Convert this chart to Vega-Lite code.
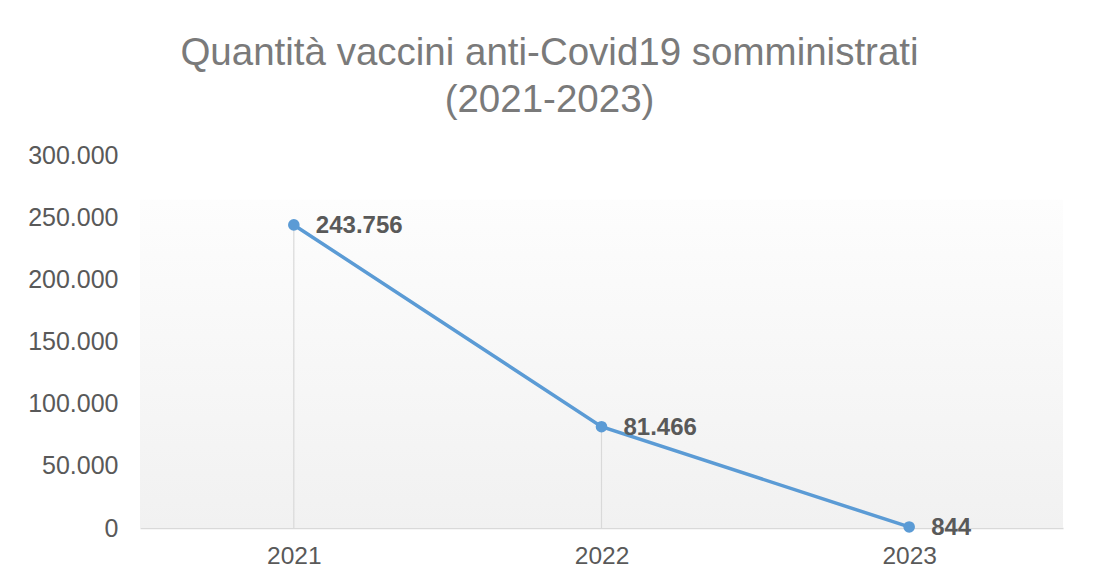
{
  "$schema": "https://vega.github.io/schema/vega-lite/v6.json",
  "width": 923,
  "height": 373,
  "autosize": "none",
  "padding": {"left": 140, "top": 155, "right": 33, "bottom": 53},
  "background": "white",
  "config": {
    "view": {"stroke": null},
    "locale": {"number": {"decimal": ",", "thousands": ".", "grouping": [3], "currency": ["€", ""]}},
    "font": "Liberation Sans"
  },
  "title": {
    "text": ["Quantità vaccini anti-Covid19 somministrati", "(2021-2023)"],
    "font": "Liberation Sans",
    "fontSize": 38.5,
    "fontWeight": "normal",
    "color": "#7a7a7a",
    "anchor": "middle",
    "frame": "group",
    "dx": -52,
    "offset": 23,
    "lineHeight": 47
  },
  "data": {
    "values": [
      {"anno": "2021", "dosi": 243756},
      {"anno": "2022", "dosi": 81466},
      {"anno": "2023", "dosi": 844}
    ]
  },
  "encoding": {
    "x": {
      "field": "anno",
      "type": "ordinal",
      "scale": {"type": "point", "padding": 0.5},
      "axis": {
        "title": null,
        "labelAngle": 0,
        "labelFont": "Liberation Sans",
        "labelFontSize": 24.5,
        "labelColor": "#595959",
        "labelPadding": 16,
        "ticks": false,
        "domainColor": "#d9d9d9",
        "domainWidth": 1.5,
        "grid": false
      }
    },
    "y": {
      "field": "dosi",
      "type": "quantitative",
      "scale": {"domain": [0, 300000], "nice": false},
      "axis": {
        "title": null,
        "values": [0, 50000, 100000, 150000, 200000, 250000, 300000],
        "format": ",d",
        "labelFont": "Liberation Sans",
        "labelFontSize": 25,
        "labelColor": "#595959",
        "labelPadding": 22,
        "ticks": false,
        "domain": false,
        "grid": false
      }
    }
  },
  "layer": [
    {
      "mark": {
        "type": "rect",
        "fill": {
          "gradient": "linear",
          "x1": 0, "y1": 0, "x2": 0, "y2": 1,
          "stops": [
            {"offset": 0, "color": "#fdfdfd"},
            {"offset": 1, "color": "#f1f1f1"}
          ]
        }
      },
      "encoding": {
        "x": null,
        "y": {"datum": 264000, "type": "quantitative"},
        "y2": {"datum": 0}
      }
    },
    {
      "mark": {"type": "rule", "color": "#d9d9d9", "strokeWidth": 1.2},
      "encoding": {"y2": {"datum": 0}}
    },
    {
      "mark": {"type": "line", "color": "#5b9bd5", "strokeWidth": 3.5}
    },
    {
      "mark": {"type": "point", "filled": true, "size": 135, "color": "#5b9bd5", "opacity": 1}
    },
    {
      "mark": {
        "type": "text",
        "align": "left",
        "baseline": "middle",
        "dx": 22,
        "dy": 1,
        "font": "Liberation Sans",
        "fontSize": 24,
        "fontWeight": "bold",
        "color": "#595959"
      },
      "encoding": {"text": {"field": "dosi", "type": "quantitative", "format": ",d"}}
    }
  ]
}
